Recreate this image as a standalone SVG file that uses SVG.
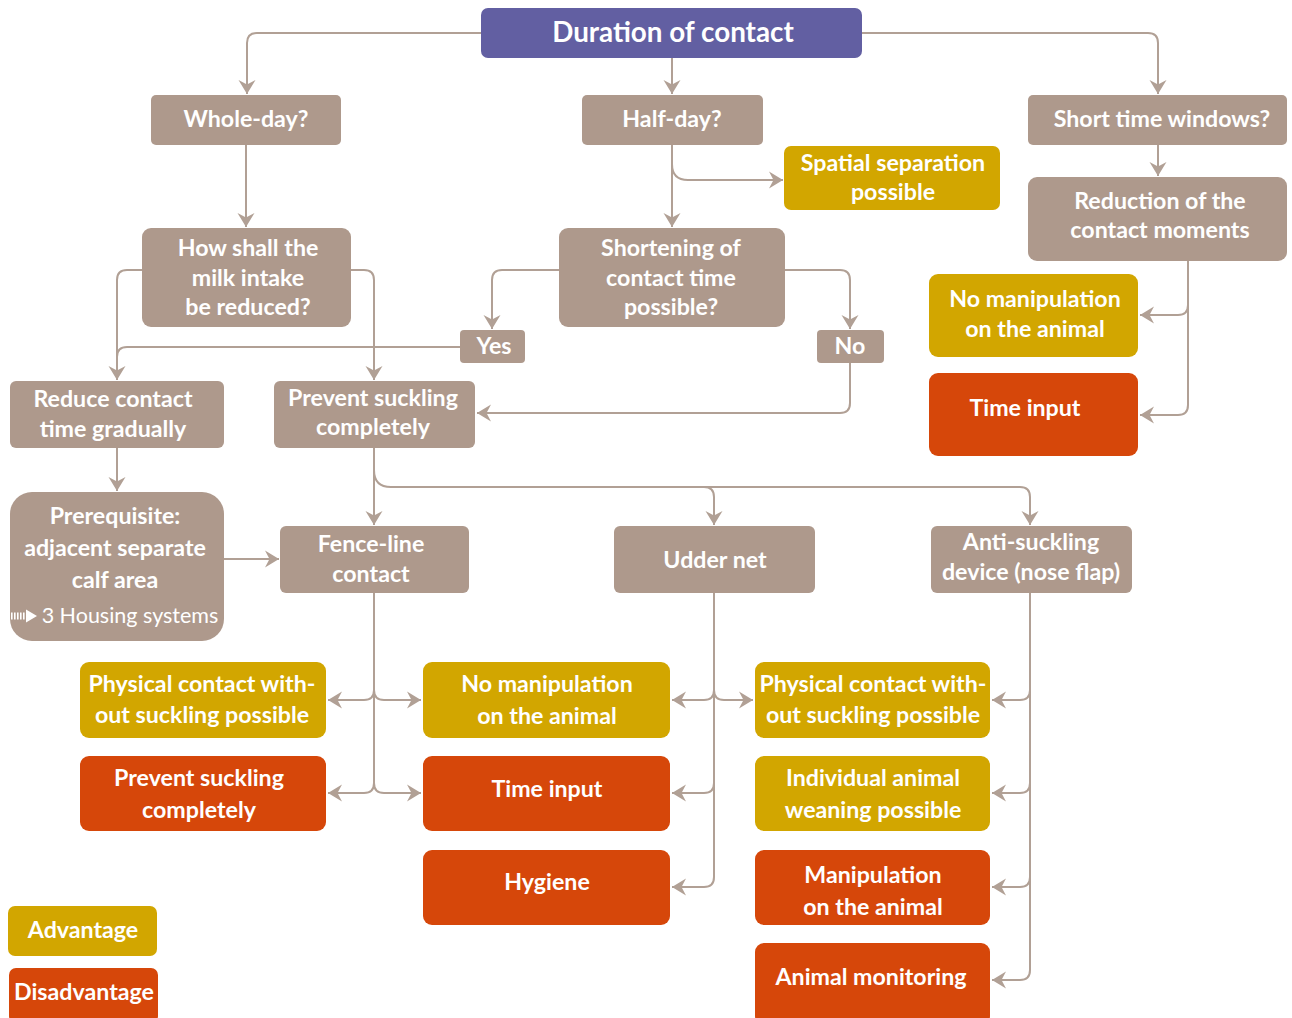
<svg xmlns="http://www.w3.org/2000/svg" width="1292" height="1018" viewBox="0 0 1292 1018">
  <defs>
    <marker id="arr" markerUnits="userSpaceOnUse" markerWidth="20" markerHeight="20" viewBox="-2 -10 18 20" refX="13" refY="0" orient="auto">
      <path d="M-1,-8.5 L13,0 L-1,8.5 L3.5,0 Z" fill="#b1a095"/>
    </marker>
    <style>
      .q rect { fill: #ae998c; }
      .top rect { fill: #625fa2; }
      .adv rect { fill: #d2a600; }
      .dis rect { fill: #d6470a; }
      text { font-family: "Source Sans Pro", "Lato", "Noto Sans", sans-serif; font-weight: 700; font-size: 23.2px; fill: #ffffff; text-anchor: middle; }
      .big { font-size: 27.8px; }
      .reg { font-weight: 400; font-size: 21.5px; }
      #connectors path { fill: none; stroke: #b1a095; stroke-width: 2; }
      #connectors path.a { marker-end: url(#arr); }
    </style>
  </defs>

  <g id="connectors">
    <!-- from the root -->
    <path class="a" d="M481,33 H257 Q247,33 247,43 V94"/>
    <path class="a" d="M862,33 H1148 Q1158,33 1158,43 V94"/>
    <path class="a" d="M672,58 V94"/>
    <!-- whole-day -->
    <path class="a" d="M246,145 V227"/>
    <!-- half-day -->
    <path class="a" d="M672,145 V227"/>
    <path class="a" d="M672,164 Q672,180 688,180 H783"/>
    <!-- short time windows -->
    <path class="a" d="M1158,145 V176"/>
    <path class="a" d="M1188,261 V305 Q1188,315 1178,315 H1140"/>
    <path class="a" d="M1188,300 V405 Q1188,415 1178,415 H1140"/>
    <!-- how shall the milk intake be reduced -->
    <path class="a" d="M142,270 H127 Q117,270 117,280 V380"/>
    <path class="a" d="M351,270 H364 Q374,270 374,280 V380"/>
    <!-- shortening of contact time -->
    <path class="a" d="M559,270 H502 Q492,270 492,280 V329"/>
    <path class="a" d="M785,270 H840 Q850,270 850,280 V329"/>
    <path d="M460,347 H127 Q117,347 117,357"/>
    <path class="a" d="M850,363 V403 Q850,413 840,413 H477"/>
    <!-- reduce contact time gradually -->
    <path class="a" d="M117,448 V491"/>
    <path class="a" d="M224,559 H279"/>
    <!-- prevent suckling completely -->
    <path class="a" d="M374,448 V525"/>
    <path class="a" d="M374,470 Q374,487 391,487 H704 Q714,487 714,497 V525"/>
    <path class="a" d="M704,487 H1020 Q1030,487 1030,497 V525"/>
    <!-- fence-line contact -->
    <path d="M374,593 V783"/>
    <path class="a" d="M374,690 Q374,700 364,700 H328"/>
    <path class="a" d="M374,690 Q374,700 384,700 H421"/>
    <path class="a" d="M374,783 Q374,793 364,793 H328"/>
    <path class="a" d="M374,783 Q374,793 384,793 H421"/>
    <!-- udder net -->
    <path d="M714,593 V877"/>
    <path class="a" d="M714,690 Q714,700 704,700 H672"/>
    <path class="a" d="M714,690 Q714,700 724,700 H753"/>
    <path class="a" d="M714,783 Q714,793 704,793 H672"/>
    <path class="a" d="M714,877 Q714,887 704,887 H672"/>
    <!-- anti-suckling device -->
    <path d="M1030,593 V970"/>
    <path class="a" d="M1030,690 Q1030,700 1020,700 H992"/>
    <path class="a" d="M1030,783 Q1030,793 1020,793 H992"/>
    <path class="a" d="M1030,877 Q1030,887 1020,887 H992"/>
    <path class="a" d="M1030,970 Q1030,980 1020,980 H992"/>
  </g>

  <g id="duration" class="top"><rect x="481" y="8" width="381" height="50" rx="7"/><text class="big" x="673" y="42">Duration of contact</text></g>

  <g id="whole-day" class="q"><rect x="151" y="95" width="190" height="50" rx="5"/><text x="246" y="127">Whole-day?</text></g>
  <g id="half-day" class="q"><rect x="582" y="95" width="181" height="50" rx="5"/><text x="672" y="127">Half-day?</text></g>
  <g id="short-windows" class="q"><rect x="1028" y="95" width="259" height="50" rx="5"/><text x="1162" y="127">Short time windows?</text></g>

  <g id="spatial-separation" class="adv"><rect x="784" y="146" width="216" height="64" rx="7"/><text x="893" y="171">Spatial separation</text><text x="893" y="200">possible</text></g>
  <g id="reduction-moments" class="q"><rect x="1028" y="177" width="259" height="84" rx="9"/><text x="1160" y="209">Reduction of the</text><text x="1160" y="238">contact moments</text></g>

  <g id="milk-intake" class="q"><rect x="142" y="228" width="209" height="99" rx="9"/><text x="248" y="256">How shall the</text><text x="248" y="286">milk intake</text><text x="248" y="315">be reduced?</text></g>
  <g id="shortening" class="q"><rect x="559" y="228" width="226" height="99" rx="9"/><text x="671" y="256">Shortening of</text><text x="671" y="286">contact time</text><text x="671" y="315">possible?</text></g>

  <g id="yes" class="q"><rect x="460" y="330" width="65" height="33" rx="4"/><text x="494" y="354">Yes</text></g>
  <g id="no" class="q"><rect x="817" y="330" width="67" height="33" rx="4"/><text x="850" y="354">No</text></g>

  <g id="right-no-manipulation" class="adv"><rect x="929" y="274" width="209" height="83" rx="9"/><text x="1035" y="307">No manipulation</text><text x="1035" y="337">on the animal</text></g>
  <g id="right-time-input" class="dis"><rect x="929" y="373" width="209" height="83" rx="9"/><text x="1025" y="416">Time input</text></g>

  <g id="reduce-gradually" class="q"><rect x="10" y="381" width="214" height="67" rx="6"/><text x="113" y="407">Reduce contact</text><text x="113" y="437">time gradually</text></g>
  <g id="prevent-suckling" class="q"><rect x="274" y="381" width="201" height="67" rx="6"/><text x="373" y="406">Prevent suckling</text><text x="373" y="435">completely</text></g>

  <g id="prerequisite" class="q">
    <rect x="10" y="492" width="214" height="149" rx="22"/>
    <text x="115" y="524">Prerequisite:</text>
    <text x="115" y="556">adjacent separate</text>
    <text x="115" y="588">calf area</text>
    <path d="M11,616 H28" stroke="#ffffff" stroke-width="7" stroke-dasharray="1.6 1.4" fill="none"/>
    <path d="M26,609.5 L37,616 L26,622.5 Z" fill="#ffffff"/>
    <text class="reg" x="130" y="623">3 Housing systems</text>
  </g>

  <g id="fence-line" class="q"><rect x="280" y="526" width="189" height="67" rx="6"/><text x="371" y="552">Fence-line</text><text x="371" y="582">contact</text></g>
  <g id="udder-net" class="q"><rect x="614" y="526" width="201" height="67" rx="6"/><text x="715" y="568">Udder net</text></g>
  <g id="anti-suckling" class="q"><rect x="931" y="526" width="201" height="67" rx="6"/><text x="1031" y="550">Anti-suckling</text><text x="1031" y="580">device (nose flap)</text></g>

  <g id="fence-physical-contact" class="adv"><rect x="80" y="662" width="246" height="76" rx="9"/><text x="202" y="692">Physical contact with-</text><text x="202" y="723">out suckling possible</text></g>
  <g id="fence-prevent-suckling" class="dis"><rect x="80" y="756" width="246" height="75" rx="9"/><text x="199" y="786">Prevent suckling</text><text x="199" y="818">completely</text></g>

  <g id="net-no-manipulation" class="adv"><rect x="423" y="662" width="247" height="76" rx="9"/><text x="547" y="692">No manipulation</text><text x="547" y="724">on the animal</text></g>
  <g id="net-time-input" class="dis"><rect x="423" y="756" width="247" height="75" rx="9"/><text x="547" y="797">Time input</text></g>
  <g id="net-hygiene" class="dis"><rect x="423" y="850" width="247" height="75" rx="9"/><text x="547" y="890">Hygiene</text></g>

  <g id="flap-physical-contact" class="adv"><rect x="755" y="662" width="235" height="76" rx="9"/><text x="873" y="692">Physical contact with-</text><text x="873" y="723">out suckling possible</text></g>
  <g id="flap-weaning" class="adv"><rect x="755" y="756" width="235" height="75" rx="9"/><text x="873" y="786">Individual animal</text><text x="873" y="818">weaning possible</text></g>
  <g id="flap-manipulation" class="dis"><rect x="755" y="850" width="235" height="75" rx="9"/><text x="873" y="883">Manipulation</text><text x="873" y="915">on the animal</text></g>
  <g id="flap-monitoring" class="dis"><rect x="755" y="943" width="235" height="82" rx="9"/><text x="871" y="985">Animal monitoring</text></g>

  <g id="legend-advantage" class="adv"><rect x="8" y="906" width="149" height="50" rx="7"/><text x="83" y="938">Advantage</text></g>
  <g id="legend-disadvantage" class="dis"><rect x="9" y="968" width="149" height="55" rx="7"/><text x="84" y="1000">Disadvantage</text></g>
</svg>
